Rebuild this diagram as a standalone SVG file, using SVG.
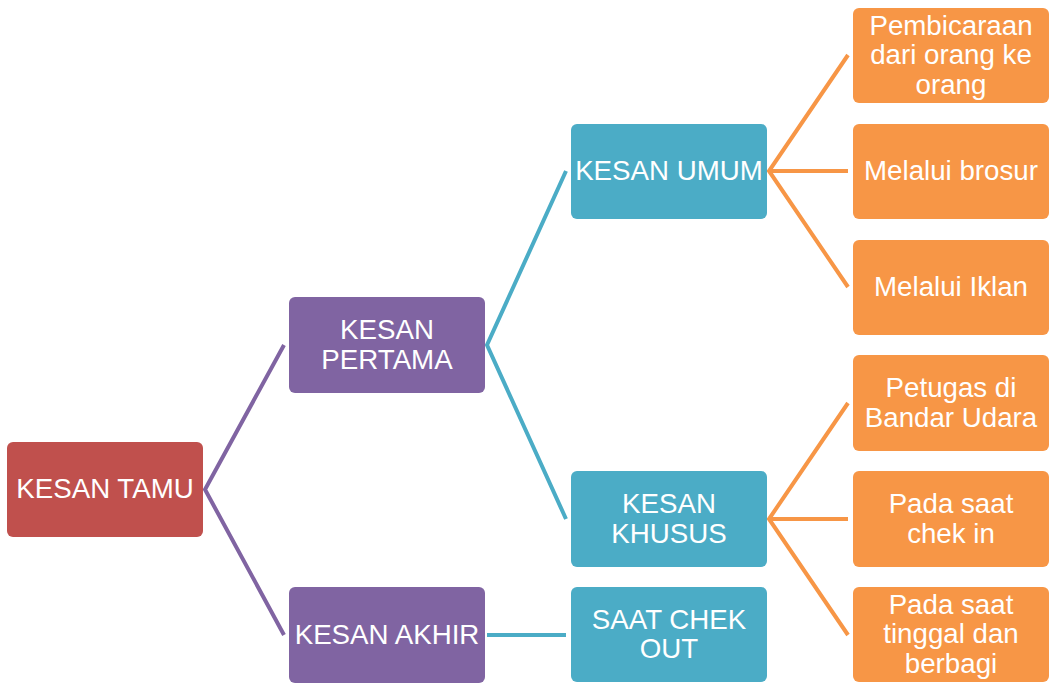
<svg xmlns="http://www.w3.org/2000/svg" width="1049" height="683" viewBox="0 0 1049 683">
<style>
text{font-family:"Liberation Sans",Arial,sans-serif;font-size:27.7px;fill:#fff;text-anchor:middle}
.red{fill:#C0504D}.pur{fill:#8064A2}.blu{fill:#4BACC6}.org{fill:#F79646}
.c{fill:none;stroke-width:4;stroke-linejoin:miter}
</style>
<rect width="1049" height="683" fill="#fff"/>
<g id="connectors">
<path class="c" stroke="#8064A2" d="M284,345 L205,489.5 L284,635"/>
<path class="c" stroke="#4BACC6" d="M566,171 L487,345 L566,519"/>
<path class="c" stroke="#4BACC6" d="M487,635 L566,635"/>
<path class="c" stroke="#F79646" d="M848,55 L769,171 L848,287 M769,171 L848,171"/>
<path class="c" stroke="#F79646" d="M848,403 L769,519 L848,635 M769,519 L848,519"/>
</g>
<g id="n-tamu"><rect class="red" x="7" y="442" width="196" height="95" rx="6"/><text x="105" y="498">KESAN TAMU</text></g>
<g id="n-pertama"><rect class="pur" x="289" y="297" width="196" height="96" rx="6"/><text x="387" y="339">KESAN</text><text x="387" y="369">PERTAMA</text></g>
<g id="n-akhir"><rect class="pur" x="289" y="587" width="196" height="96" rx="6"/><text x="387" y="644">KESAN AKHIR</text></g>
<g id="n-umum"><rect class="blu" x="571" y="124" width="196" height="95" rx="6"/><text x="669" y="180">KESAN UMUM</text></g>
<g id="n-khusus"><rect class="blu" x="571" y="471" width="196" height="96" rx="6"/><text x="669" y="513">KESAN</text><text x="669" y="543">KHUSUS</text></g>
<g id="n-checkout"><rect class="blu" x="571" y="587" width="196" height="95" rx="6"/><text x="669" y="628.5">SAAT CHEK</text><text x="669" y="658">OUT</text></g>
<g id="n-pembicaraan"><rect class="org" x="853" y="8" width="196" height="95" rx="6"/><text x="951" y="34.5">Pembicaraan</text><text x="951" y="64">dari orang ke</text><text x="951" y="93.5">orang</text></g>
<g id="n-brosur"><rect class="org" x="853" y="124" width="196" height="95" rx="6"/><text x="951" y="180">Melalui brosur</text></g>
<g id="n-iklan"><rect class="org" x="853" y="240" width="196" height="95" rx="6"/><text x="951" y="296">Melalui Iklan</text></g>
<g id="n-petugas"><rect class="org" x="853" y="355" width="196" height="96" rx="6"/><text x="951" y="397">Petugas di</text><text x="951" y="427">Bandar Udara</text></g>
<g id="n-checkin"><rect class="org" x="853" y="471" width="196" height="96" rx="6"/><text x="951" y="513">Pada saat</text><text x="951" y="543">chek in</text></g>
<g id="n-tinggal"><rect class="org" x="853" y="587" width="196" height="95" rx="6"/><text x="951" y="613.5">Pada saat</text><text x="951" y="643">tinggal dan</text><text x="951" y="672.5">berbagi</text></g>
</svg>
